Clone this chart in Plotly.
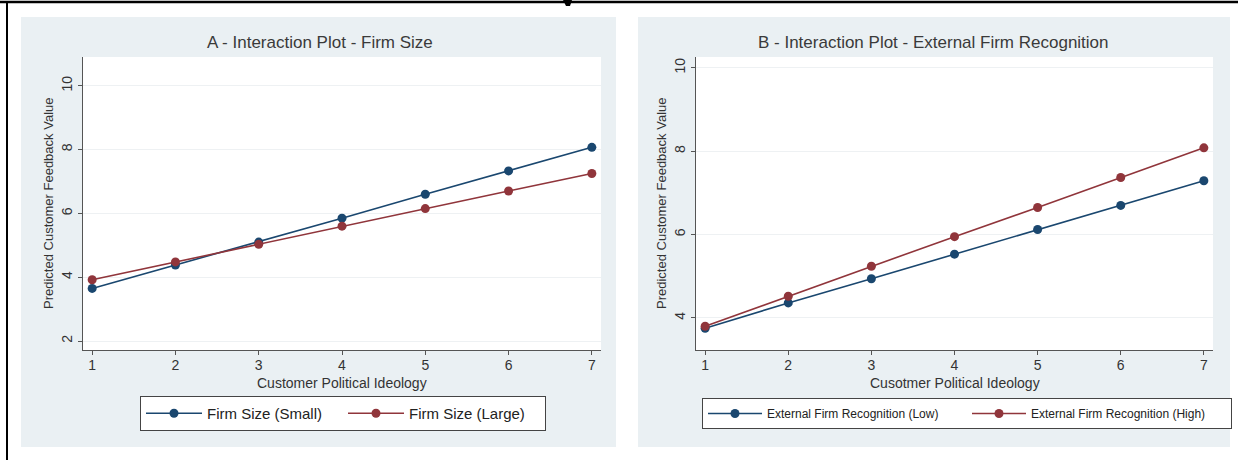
import plotly.graph_objects as go

W, H = 1238, 460

# ---- data ----
ideology = [1, 2, 3, 4, 5, 6, 7]

firm_small = [3.65, 4.38, 5.10, 5.85, 6.60, 7.33, 8.07]
firm_large = [3.92, 4.48, 5.03, 5.60, 6.15, 6.70, 7.25]

recog_low = [3.75, 4.36, 4.94, 5.53, 6.12, 6.70, 7.29]
recog_high = [3.80, 4.52, 5.24, 5.95, 6.65, 7.37, 8.08]

title_a = "A - Interaction Plot - Firm Size"
title_b = "B - Interaction Plot - External Firm Recognition"
ytitle = "Predicted Customer Feedback Value"
xtitle_a = "Customer Political Ideology"
xtitle_b = "Cusotmer Political Ideology"

BLUE = "#1a476f"
RED = "#90353b"
PANEL = "#eaf0f3"
FONT = "Liberation Sans, Arial, sans-serif"
TXT = "#333333"


def px(x):
    return x / W


def py(y):
    return 1 - y / H


fig = go.Figure()

fig.add_trace(go.Scatter(x=ideology, y=firm_small, mode="lines+markers",
                         name="Firm Size (Small)", line=dict(color=BLUE, width=1.6),
                         marker=dict(color=BLUE, size=9), xaxis="x", yaxis="y",
                         legend="legend"))
fig.add_trace(go.Scatter(x=ideology, y=firm_large, mode="lines+markers",
                         name="Firm Size (Large)", line=dict(color=RED, width=1.6),
                         marker=dict(color=RED, size=9), xaxis="x", yaxis="y",
                         legend="legend"))
fig.add_trace(go.Scatter(x=ideology, y=recog_low, mode="lines+markers",
                         name="External Firm Recognition (Low)", line=dict(color=BLUE, width=1.6),
                         marker=dict(color=BLUE, size=9), xaxis="x2", yaxis="y2",
                         legend="legend2"))
fig.add_trace(go.Scatter(x=ideology, y=recog_high, mode="lines+markers",
                         name="External Firm Recognition (High)", line=dict(color=RED, width=1.6),
                         marker=dict(color=RED, size=9), xaxis="x2", yaxis="y2",
                         legend="legend2"))

axis_common = dict(showline=True, linecolor="#555555", linewidth=1, mirror=False,
                   ticks="outside", ticklen=4, tickcolor="#555555",
                   tickfont=dict(family=FONT, size=14, color=TXT), zeroline=False)

plot_y = [57, 350]
a_x = [83, 601]
b_x = [696, 1213]

fig.update_layout(
    width=W, height=H,
    margin=dict(l=0, r=0, t=0, b=0, autoexpand=False),
    paper_bgcolor="white",
    plot_bgcolor="rgba(0,0,0,0)",
    font=dict(family=FONT, color=TXT),
    xaxis=dict(domain=[px(a_x[0]), px(a_x[1])], range=[0.89, 7.11],
               tickvals=ideology, showgrid=False, anchor="y",
               ticklabelstandoff=-2, **axis_common),
    yaxis=dict(domain=[py(plot_y[1]), py(plot_y[0])], range=[1.72, 10.9],
               tickvals=[2, 4, 6, 8, 10], tickangle=-90, showgrid=True,
               gridcolor="#eef1f3", gridwidth=1, anchor="x", **axis_common),
    xaxis2=dict(domain=[px(b_x[0]), px(b_x[1])], range=[0.89, 7.11],
                tickvals=ideology, showgrid=False, anchor="y2",
                ticklabelstandoff=-2, **axis_common),
    yaxis2=dict(domain=[py(plot_y[1]), py(plot_y[0])], range=[3.23, 10.26],
                tickvals=[4, 6, 8, 10], tickangle=-90, showgrid=True,
                gridcolor="#eef1f3", gridwidth=1, anchor="x2", **axis_common),
    legend=dict(orientation="h", x=px(140), y=py(396), xanchor="left", yanchor="top",
                bgcolor="white", bordercolor="#444444", borderwidth=1,
                font=dict(family=FONT, size=15, color="#222222"),
                itemwidth=56, entrywidth=131, entrywidthmode="pixels"),
    legend2=dict(orientation="h", x=px(702), y=py(398), xanchor="left", yanchor="top",
                 bgcolor="white", bordercolor="#444444", borderwidth=1,
                 font=dict(family=FONT, size=12, color="#222222"),
                 itemwidth=54, entrywidth=195, entrywidthmode="pixels"),
    showlegend=True,
)

shapes = []
# panel backgrounds
for x0, x1 in [(21, 616), (638, 1230)]:
    shapes.append(dict(type="rect", xref="paper", yref="paper", x0=px(x0), x1=px(x1),
                       y0=py(447), y1=py(17), fillcolor=PANEL, line=dict(width=0),
                       layer="below"))
# white plotting regions
for x0, x1 in [(a_x[0], a_x[1]), (b_x[0], b_x[1])]:
    shapes.append(dict(type="rect", xref="paper", yref="paper", x0=px(x0), x1=px(x1),
                       y0=py(plot_y[1]), y1=py(plot_y[0]), fillcolor="white",
                       line=dict(width=0), layer="below"))
# outer frame lines
shapes.append(dict(type="line", xref="paper", yref="paper", x0=0, x1=1, y0=py(2), y1=py(2),
                   line=dict(color="black", width=2.5)))
shapes.append(dict(type="line", xref="paper", yref="paper", x0=px(7), x1=px(7), y0=0, y1=py(2),
                   line=dict(color="black", width=2)))
# clipped glyph fragment along the top edge
shapes.append(dict(type="path", xref="paper", yref="paper",
                   path=f"M {px(563)},{py(0)} L {px(572)},{py(0)} L {px(570)},{py(6)} L {px(566)},{py(6)} Z",
                   fillcolor="black", line=dict(width=0)))
fig.update_layout(shapes=shapes)


def label(text, x, y, size, angle=0, color=TXT):
    return dict(text=text, x=px(x), y=py(y), xref="paper", yref="paper",
                xanchor="center", yanchor="middle", showarrow=False, textangle=angle,
                font=dict(size=size, color=color, family=FONT))


ann = [
    label(title_a, 320, 42, 17, color="#3a3a3a"),
    label(title_b, 934, 42, 17, color="#3a3a3a"),
    label(ytitle, 48, 204, 13, angle=-90),
    label(ytitle, 661, 204, 13, angle=-90),
    label(xtitle_a, 342, 383, 14),
    label(xtitle_b, 955, 383, 14),
]
fig.update_layout(annotations=ann)

fig.write_html("out.html")
